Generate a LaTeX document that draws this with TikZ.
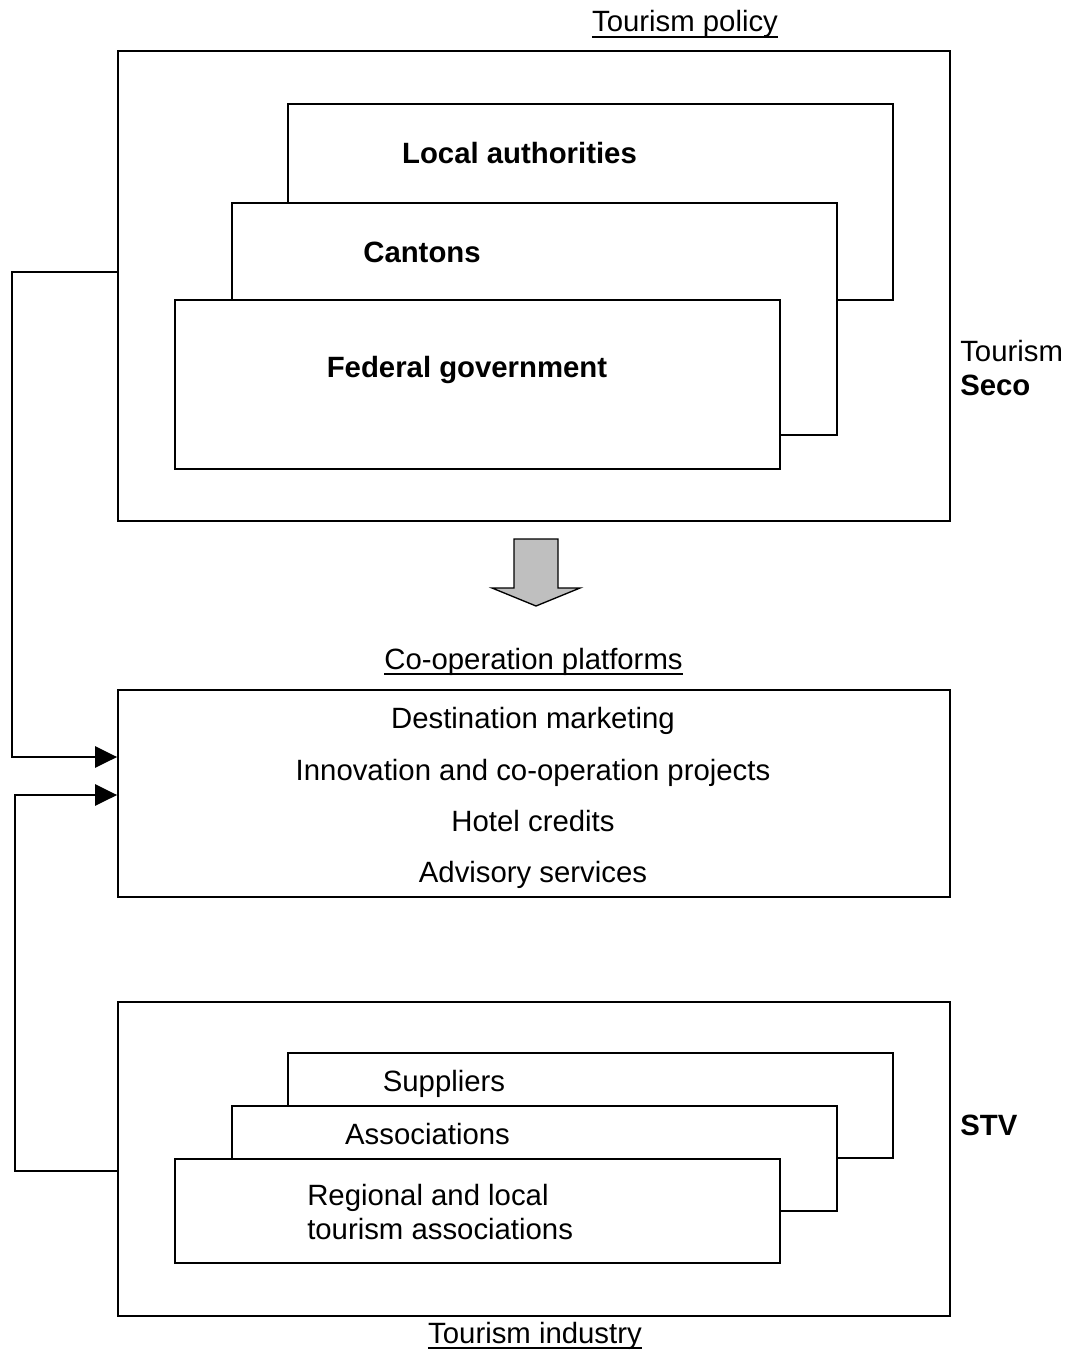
\documentclass[tikz,border=0pt]{standalone}
\usepackage{fontspec}
\setmainfont{Liberation Sans}
\usetikzlibrary{arrows.meta}
\begin{document}
\begin{tikzpicture}[x=0.75pt,y=-0.75pt,
  frame/.style={draw,line width=1.4pt,fill=white,inner sep=0pt},
  wide/.style={frame,minimum width=624pt},
  tier/.style={frame,minimum width=453.75pt},
  lbl/.style={inner sep=0pt,font=\fontsize{22}{26}\selectfont},
  bold/.style={lbl,font=\fontsize{22}{26}\selectfont\bfseries},
  rule/.style={line width=1.3pt},
  link/.style={line width=1.4pt},
  feed/.style={link,-{Triangle[length=16.5pt,width=16pt]}}]
\useasboundingbox (0,0) rectangle (1069,1351);

% --- tourism policy ---
\node[lbl,anchor=base] (policy) at (685,32) {Tourism policy};
\draw[rule] ([yshift=-3.5pt]policy.base west) -- ([yshift=-3.5pt]policy.base east);
\node[wide,minimum height=352.5pt] (gov) at (534,286) {};
\node[tier,minimum height=147pt] (local) at (590.5,202) {};
\node[tier,minimum height=174pt] (cant) at (534.5,319) {};
\node[tier,minimum height=126.75pt] (fed) at (477.5,384.5) {};
\node[bold,anchor=base] (tlocal) at (519.5,164) {Local authorities};
\node[bold,anchor=base] (tcant) at (422,263) {Cantons};
\node[bold,anchor=base] (tfed) at (467,378) {Federal government};
\node[lbl,anchor=base west] (tour) at (960,362) {Tourism};
\node[bold,anchor=base west] (seco) at (960,395) {Seco};

% --- block arrow down ---
\filldraw[fill=black!25,line width=1pt]
  (514,539) -- (558,539) -- (558,588) -- (580,588) -- (536,606)
  -- (492,588) -- (514,588) -- cycle;

% --- co-operation platforms ---
\node[lbl,anchor=base] (coop) at (533.5,669) {Co-operation platforms};
\draw[rule] ([yshift=-4pt]coop.base west) -- ([yshift=-4pt]coop.base east);
\node[wide,minimum height=155.25pt] (plat) at (534,793.5) {};
\node[lbl,anchor=base] (p1) at (533,728) {Destination marketing};
\node[lbl,anchor=base] (p2) at (533,780) {Innovation and co-operation projects};
\node[lbl,anchor=base] (p3) at (533,831) {Hotel credits};
\node[lbl,anchor=base] (p4) at (533,882) {Advisory services};

% --- tourism industry ---
\node[wide,minimum height=235.5pt] (ind) at (534,1159) {};
\node[tier,minimum height=78.75pt] (sup) at (590.5,1105.5) {};
\node[tier,minimum height=78.75pt] (assoc) at (534.5,1158.5) {};
\node[tier,minimum height=78pt] (reg) at (477.5,1211) {};
\node[lbl,anchor=base] (tsup) at (444,1091) {Suppliers};
\node[lbl,anchor=base] (tassoc) at (427.5,1144) {Associations};
\node[lbl,anchor=base west] (treg1) at (307,1205) {Regional and local};
\node[lbl,anchor=base west] (treg2) at (307,1239) {tourism associations};
\node[bold,anchor=base west] (stv) at (960,1135) {STV};
\node[lbl,anchor=base] (tind) at (535,1343) {Tourism industry};
\draw[rule] ([yshift=-3.5pt]tind.base west) -- ([yshift=-3.5pt]tind.base east);

% --- feedback connectors into the platforms ---
\coordinate (ga) at (12,272);
\coordinate (gb) at (12,757);
\draw[feed] (ga -| gov.west) -- (ga) -- (gb) -- (gb -| plat.west);
\coordinate (ia) at (15,1171);
\coordinate (ib) at (15,795);
\draw[feed] (ia -| ind.west) -- (ia) -- (ib) -- (ib -| plat.west);
\end{tikzpicture}
\end{document}
